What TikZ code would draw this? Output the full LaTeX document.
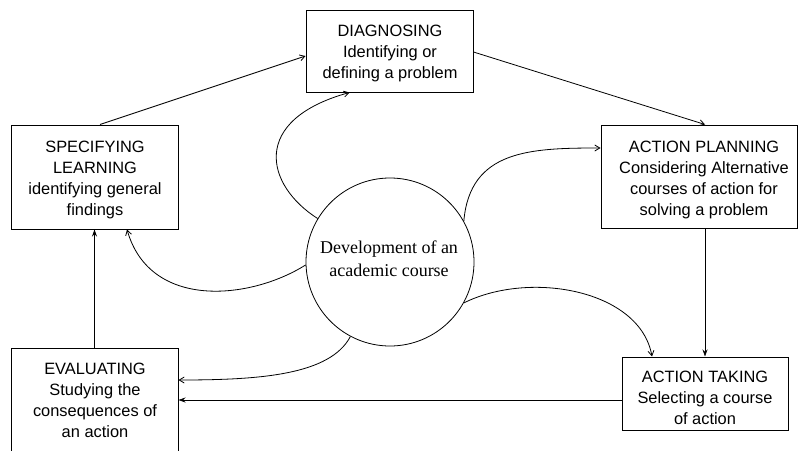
\documentclass[tikz,border=0pt]{standalone}
\usepackage{fontspec}
\setmainfont{Liberation Sans}
\newfontfamily\serifc{Liberation Serif}
\usetikzlibrary{arrows.meta}
\begin{document}
\begin{tikzpicture}[x=1pt,y=-1pt,
  box/.style={draw, line width=1pt, inner sep=0pt, rectangle},
  txt/.style={align=center, font=\fontsize{16.4}{21}\selectfont, inner sep=0pt},
  conn/.style={line width=0.8pt, -{Stealth[length=7pt,width=5pt]}},
  curv/.style={line width=0.8pt, -{Straight Barb[length=5pt,width=6pt]}}]
\useasboundingbox (0,0) rectangle (800,450);
\clip (0,0) rectangle (800,450);
\fill[white] (0,0) rectangle (800,450);
% boxes
\node[box, minimum width=167pt, minimum height=82pt] (diag) at (389.5,51) {};
\node[box, minimum width=167pt, minimum height=104pt] (spec) at (94.5,177) {};
\node[box, minimum width=196pt, minimum height=103pt] (plan) at (699,176.5) {};
\node[box, minimum width=167pt, minimum height=108pt] (eval) at (94.5,402) {};
\node[box, minimum width=166pt, minimum height=73pt] (take) at (705,393.5) {};
% texts
\node[txt] (diagt) at (390,53) {DIAGNOSING\\Identifying or\\defining a problem};
\node[txt] (spect) at (95,180) {SPECIFYING\\LEARNING\\identifying general\\findings};
\node[txt] (plant) at (704,180) {ACTION PLANNING\\Considering Alternative\\courses of action for\\solving a problem};
\node[txt] (evalt) at (95,400) {EVALUATING\\Studying the\\consequences of\\an action};
\node[txt] (taket) at (705,398) {ACTION TAKING\\Selecting a course\\of action};
% circle
\node[draw, circle, minimum size=168pt, line width=0.8pt, inner sep=0pt] (c) at (390,262) {};
\node[align=center, inner sep=0pt, font=\serifc\fontsize{18}{23}\selectfont] (ct) at (389,258.5) {Development of an\\academic course};
% straight connectors
\draw[curv] ([xshift=5.5pt]spec.north) -- ([yshift=-5pt]diag.west);
\draw[curv] ([yshift=-1pt]diag.east) -- ([xshift=6pt]plan.north);
\draw[conn] (take.north |- plan.south) -- (take.north);
\draw[conn] ([yshift=-6.5pt]take.west) -- ([yshift=-6.5pt]take.west -| eval.east);
\draw[conn] (eval.north) -- (spec.south);
% curved connectors
\draw[curv] (c.149) .. controls (265,185) and (250,120) .. ([xshift=-40pt]diag.south);
\draw[curv] (c.29) .. controls (470,150) and (530,148) .. ([yshift=28.5pt]plan.west);
\draw[curv] (c.182) .. controls (250,300) and (150,310) .. ([xshift=32.5pt]spec.south);
\draw[curv] (c.-29) .. controls (530,270) and (640,290) .. ([xshift=-53pt]take.north);
\draw[curv] (c.242) .. controls (330,375) and (260,380) .. ([yshift=22pt]eval.east);
\end{tikzpicture}
\end{document}
